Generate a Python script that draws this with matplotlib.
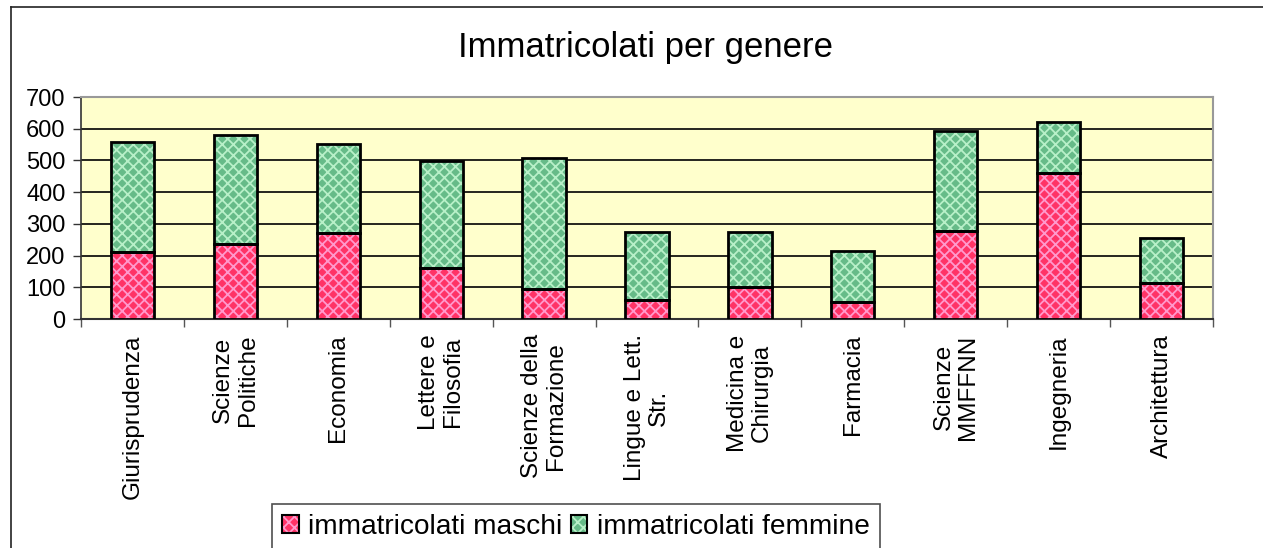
import matplotlib
matplotlib.use("Agg")
import matplotlib.pyplot as plt
from matplotlib.patches import Patch
from matplotlib.lines import Line2D
from matplotlib.legend_handler import HandlerTuple
import numpy as np

plt.rcParams['font.family'] = ['Liberation Sans', 'DejaVu Sans']
plt.rcParams['hatch.linewidth'] = 1.3

categories = ["Giurisprudenza", "Scienze\nPolitiche", "Economia", "Lettere e\nFilosofia",
              "Scienze della\nFormazione", "Lingue e Lett.\nStr.", "Medicina e\nChirurgia",
              "Farmacia", "Scienze\nMMFFNN", "Ingegneria", "Architettura"]
maschi = [212, 237, 272, 160, 94, 59, 100, 53, 278, 461, 112]
femmine = [346, 344, 280, 338, 415, 214, 173, 160, 314, 161, 142]
y_ticks = [0, 100, 200, 300, 400, 500, 600, 700]
series_labels = ["immatricolati maschi", "immatricolati femmine"]

W, H = 1263, 548
fig = plt.figure(figsize=(W / 100, H / 100), dpi=100)
ax = fig.add_axes([81 / W, 1 - 319 / H, (1213 - 81) / W, (319 - 97) / H])
ax.set_facecolor('#FFFFCC')

x = np.arange(len(categories))
bw = 0.42
red, red_h = '#FF3366', '#FF99CC'
grn, grn_h = '#66BB88', '#B8F0C8'

ax.bar(x, maschi, bw, color=red, edgecolor=red_h, hatch='xxx', linewidth=0, zorder=3)
ax.bar(x, femmine, bw, bottom=maschi, color=grn, edgecolor=grn_h, hatch='xxx', linewidth=0, zorder=3)
ax.bar(x, maschi, bw, fill=False, edgecolor='black', linewidth=2, zorder=4)
ax.bar(x, femmine, bw, bottom=maschi, fill=False, edgecolor='black', linewidth=2, zorder=4)

ax.set_xlim(-0.5, len(categories) - 0.5)
ax.set_ylim(0, 700)
ax.set_yticks(y_ticks)
ax.set_yticklabels([str(v) for v in y_ticks], fontsize=17)
ax.yaxis.grid(True, color='black', linewidth=1.2, zorder=1)
ax.set_axisbelow(True)
ax.tick_params(axis='y', length=6, width=1, color='#333333', pad=5)

ax.set_xticks(np.arange(len(categories) + 1) - 0.5)
ax.set_xticklabels([])
ax.tick_params(axis='x', length=6, width=1, color='#555555')
for xi, lab in zip(x, categories):
    ax.annotate(lab, xy=(xi, 0), xycoords=('data', 'axes fraction'),
                xytext=(0, -11), textcoords='offset points',
                rotation=90, ha='center', va='top', multialignment='center',
                fontsize=17.5, linespacing=1.15)

for side in ['top', 'right']:
    ax.spines[side].set_color('#999999')
    ax.spines[side].set_linewidth(1.5)
ax.spines['left'].set_color('#333333')
ax.spines['bottom'].set_color('#333333')
ax.spines['left'].set_linewidth(1.2)
ax.spines['bottom'].set_linewidth(1.5)

fig.text(646 / W, 1 - 48 / H, "Immatricolati per genere", fontsize=25,
         ha='center', va='center')

# figure border (left and top visible)
fig.add_artist(Line2D([11 / W, 11 / W], [0, 1 - 7 / H], transform=fig.transFigure,
                      color='#222222', linewidth=1.2))
fig.add_artist(Line2D([11 / W, 1], [1 - 7 / H, 1 - 7 / H], transform=fig.transFigure,
                      color='#222222', linewidth=1.2))

h1 = (Patch(facecolor=red, edgecolor=red_h, hatch='xxx', linewidth=0),
      Patch(fill=False, edgecolor='black', linewidth=1.5))
h2 = (Patch(facecolor=grn, edgecolor=grn_h, hatch='xxx', linewidth=0),
      Patch(fill=False, edgecolor='black', linewidth=1.5))
leg = fig.legend([h1, h2], series_labels, handler_map={tuple: HandlerTuple(ndivide=1)},
                 loc='upper left', bbox_to_anchor=(272 / W, 1 - 504 / H),
                 ncol=2, fontsize=20.2, frameon=True, fancybox=False,
                 handlelength=0.6, handleheight=0.6, handletextpad=0.35,
                 columnspacing=0.28, borderpad=0.35, borderaxespad=0)
leg.get_frame().set_edgecolor('#222222')
leg.get_frame().set_linewidth(1.2)

fig.savefig('out.png', dpi=100)
